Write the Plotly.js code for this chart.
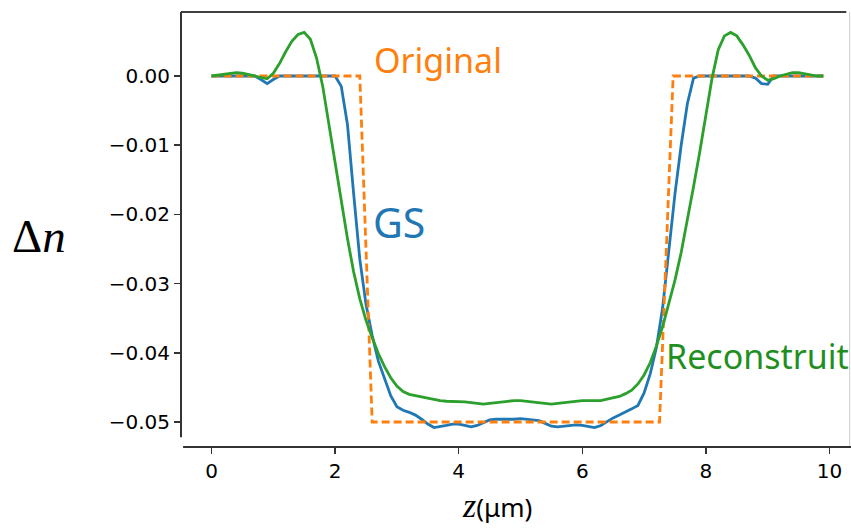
<!DOCTYPE html>
<html><head><meta charset="utf-8">
<script src="https://cdn.plot.ly/plotly-3.0.1.min.js"></script>
<style>html,body{margin:0;padding:0;background:#fff}#chart{width:851px;height:531px}</style>
</head><body><div id="chart"></div>
<script>
const zGrid = [0.0,0.1,0.2,0.3,0.4,0.5,0.6,0.7,0.8,0.9,1.0,1.1,1.2,1.3,1.4,1.5,1.6,1.7,1.8,1.9,
2.0,2.1,2.2,2.3,2.4,2.5,2.6,2.7,2.8,2.9,3.0,3.1,3.2,3.3,3.4,3.5,3.6,3.7,3.8,3.9,
4.0,4.1,4.2,4.3,4.4,4.5,4.6,4.7,4.8,4.9,5.0,5.1,5.2,5.3,5.4,5.5,5.6,5.7,5.8,5.9,
6.0,6.1,6.2,6.3,6.4,6.5,6.6,6.7,6.8,6.9,7.0,7.1,7.2,7.3,7.4,7.5,7.6,7.7,7.8,7.9,
8.0,8.1,8.2,8.3,8.4,8.5,8.6,8.7,8.8,8.9,9.0,9.1,9.2,9.3,9.4,9.5,9.6,9.7,9.8,9.9];

const gsValues = [0,0,0,0,0,0,0,0,-0.0005,-0.0011,
-0.0005,0,0,0,0,0,0,0,0,0,
0,-0.0015,-0.0070,-0.0170,-0.0265,-0.0330,-0.0375,-0.0412,-0.0437,-0.0462,
-0.0478,-0.0483,-0.0486,-0.0490,-0.0496,-0.0503,-0.0508,-0.0507,-0.0505,-0.0503,
-0.0503,-0.0505,-0.0507,-0.0505,-0.0501,-0.0497,-0.0496,-0.0496,-0.0497,-0.0496,
-0.0495,-0.0496,-0.0497,-0.0498,-0.0502,-0.0506,-0.0507,-0.0506,-0.0504,-0.0504,
-0.0505,-0.0507,-0.0508,-0.0505,-0.0499,-0.0494,-0.0490,-0.0486,-0.0481,-0.0476,
-0.0458,-0.0430,-0.0392,-0.0335,-0.0255,-0.0170,-0.0100,-0.0040,-0.0003,0,
0,0,0,0,0,0,0,0,-0.0003,-0.0011,
-0.0012,0,0,0,0,0,0,0,0,0];

const reconValues = [0.0000,0.0001,0.0003,0.0004,0.0005,0.0004,0.0002,0.0000,-0.0003,-0.0004,
0.0004,0.0018,0.0035,0.0050,0.0060,0.0063,0.0053,0.0026,-0.0015,-0.0068,
-0.0122,-0.0180,-0.0235,-0.0283,-0.0322,-0.0353,-0.0378,-0.0401,-0.0420,-0.0436,
-0.0448,-0.0456,-0.0460,-0.0462,-0.0464,-0.0466,-0.0468,-0.0469,-0.0470,-0.0470,
-0.0470,-0.0471,-0.0472,-0.0473,-0.0474,-0.0473,-0.0472,-0.0470,-0.0469,-0.0469,
-0.0469,-0.0470,-0.0471,-0.0473,-0.0474,-0.0474,-0.0473,-0.0472,-0.0470,-0.0469,
-0.0469,-0.0469,-0.0469,-0.0469,-0.0467,-0.0465,-0.0463,-0.0459,-0.0454,-0.0445,
-0.0432,-0.0414,-0.0390,-0.0362,-0.0330,-0.0295,-0.0255,-0.0210,-0.0160,-0.0110,
-0.0058,-0.0003,0.0038,0.0058,0.0063,0.0058,0.0045,0.0030,0.0012,0.0000,
-0.0006,-0.0004,0.0000,0.0003,0.0005,0.0005,0.0003,0.0001,0.0000,0.0000];

const originalZ = [0, 2.4, 2.6, 7.25, 7.47, 9.9];
const originalValues = [0, 0, -0.05, -0.05, 0, 0];

const xTicks = [0, 2, 4, 6, 8, 10];
const yTicks = [0.00, -0.01, -0.02, -0.03, -0.04, -0.05];
const seriesLabels = ['Original', 'GS', 'Reconstruit'];

const traces = [
  {x: zGrid, y: gsValues, mode: 'lines', line: {color: '#1f77b4', width: 2.8}, name: 'GS'},
  {x: originalZ, y: originalValues, mode: 'lines', line: {color: '#ff7f0e', width: 2.8, dash: '8px,4px'}, name: 'Original'},
  {x: zGrid, y: reconValues, mode: 'lines', line: {color: '#2ca02c', width: 2.8}, name: 'Reconstruit'}
];

const tickFont = {family: 'DejaVu Sans', size: 20, color: '#000'};
const layout = {
  width: 851, height: 531,
  margin: {l: 181, r: 0, t: 12, b: 84, pad: 0},
  paper_bgcolor: '#fff', plot_bgcolor: '#fff',
  showlegend: false,
  xaxis: {range: [-0.4935, 10.348], tickvals: xTicks, ticktext: xTicks.map(String),
    ticks: 'outside', ticklen: 6, tickwidth: 1.5, tickcolor: '#333',
    showgrid: false, zeroline: false, showline: false, tickfont: tickFont},
  yaxis: {range: [-0.05361, 0.009249], tickvals: yTicks, tickformat: '.2f',
    ticks: 'outside', ticklen: 6, tickwidth: 1.5, tickcolor: '#333',
    showgrid: false, zeroline: false, showline: false, tickfont: tickFont},
  shapes: [
    {type: 'line', xref: 'paper', yref: 'paper', x0: 0, x1: 0.993, y0: 1, y1: 1, line: {color: '#000', width: 1.5}},
    {type: 'line', xref: 'paper', yref: 'paper', x0: 0.998, x1: 0.998, y0: 0, y1: 1, line: {color: '#ccc', width: 1}},
    {type: 'line', xref: 'paper', yref: 'y', x0: 0, x1: 0, y0: -0.0522, y1: 0.009249, line: {color: '#333', width: 2}},
    {type: 'line', xref: 'x', yref: 'paper', x0: -0.46, x1: 10.348, y0: 0, y1: 0, line: {color: '#333', width: 2}}
  ],
  annotations: [
    {text: seriesLabels[0], x: 2.6, y: 0.0023, xref: 'x', yref: 'y', xanchor: 'left', yanchor: 'middle', showarrow: false,
     font: {family: 'Noto Sans', size: 34, color: '#ff7f0e'}},
    {text: seriesLabels[1], x: 2.58, y: -0.0211, xref: 'x', yref: 'y', xanchor: 'left', yanchor: 'middle', showarrow: false,
     font: {family: 'Noto Sans', size: 41, color: '#1f77b4'}},
    {text: seriesLabels[2], x: 7.33, y: -0.0405, xref: 'x', yref: 'y', xanchor: 'left', yanchor: 'middle', showarrow: false,
     font: {family: 'Noto Sans', size: 34, color: '#1f8f1f'}},
    {text: 'Δ<i>n</i>', x: -0.212, y: 0.485, xref: 'paper', yref: 'paper', xanchor: 'center', yanchor: 'middle', showarrow: false,
     font: {family: 'Liberation Serif', size: 47, color: '#000'}},
    {text: '<i style="font-family:Liberation Serif;font-size:34px">z</i>(μm)', x: 0.4716, y: 0, xref: 'paper', yref: 'paper', xanchor: 'center', yanchor: 'top', yshift: -38, showarrow: false,
     font: {family: 'Noto Sans', size: 26, color: '#000'}}
  ]
};
Plotly.newPlot('chart', traces, layout, {staticPlot: true, displayModeBar: false});
</script></body></html>
